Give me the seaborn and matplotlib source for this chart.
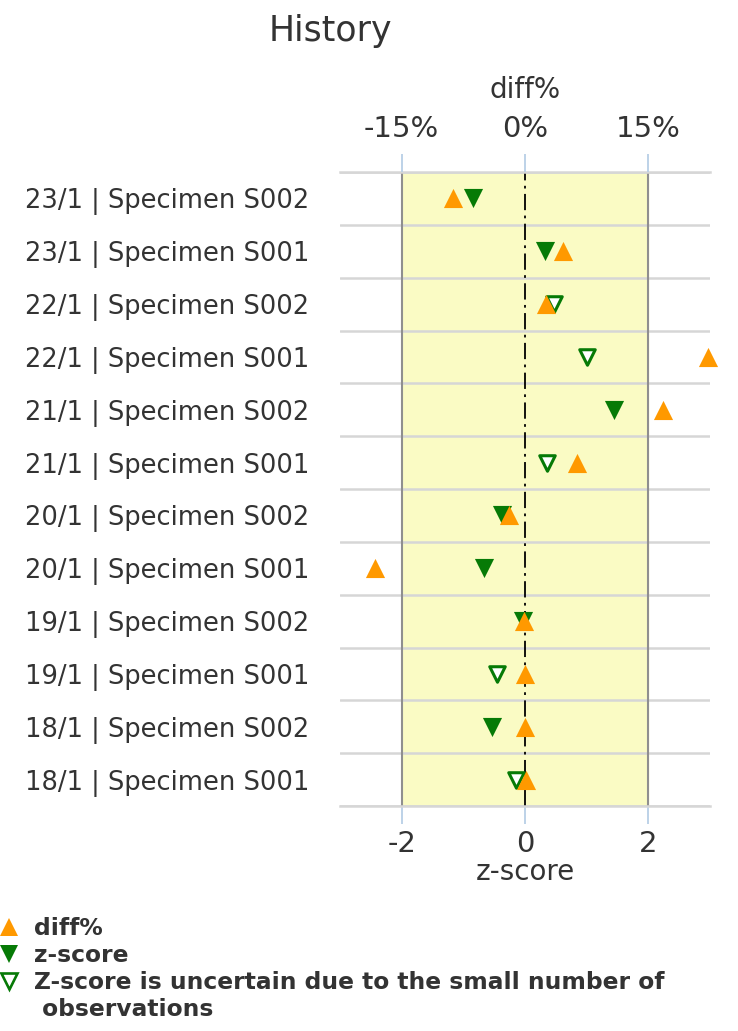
import numpy as np
import pandas as pd
import seaborn as sns
import matplotlib.pyplot as plt
from matplotlib.lines import Line2D

# data (top row first)
labels = ["23/1 | Specimen S002", "23/1 | Specimen S001",
          "22/1 | Specimen S002", "22/1 | Specimen S001",
          "21/1 | Specimen S002", "21/1 | Specimen S001",
          "20/1 | Specimen S002", "20/1 | Specimen S001",
          "19/1 | Specimen S002", "19/1 | Specimen S001",
          "18/1 | Specimen S002", "18/1 | Specimen S001"]
diff_pct = [-8.7, 4.6, 2.6, 22.2, 16.8, 6.3, -2.0, -18.2, -0.1, 0.0, 0.0, 0.1]
zscores = [-0.85, 0.32, 0.47, 1.0, 1.45, 0.36, -0.37, -0.67, -0.04, -0.46, -0.53, -0.14]
uncertain = [False, False, True, True, False, True, False, False, False, True, False, True]

df = pd.DataFrame({"label": labels, "diff_pct": diff_pct,
                   "zscore": zscores, "uncertain": uncertain})
df["row"] = np.arange(len(df))

orange = "#ff9900"
green = "#067a06"
text_col = "#333333"
tick_blue = "#b8cfe6"
grid_col = "#d6d6d6"

sns.set_style("white")
plt.rcParams["font.family"] = ["DejaVu Sans"]
plt.rcParams["axes.unicode_minus"] = False

fig = plt.figure(figsize=(7.38, 10.31), dpi=100)
ax = fig.add_axes([340 / 738, 1 - 806 / 1031, 370 / 738, 634 / 1031])

# acceptance band and reference lines
ax.axvspan(-2, 2, color="#fafbc4", zorder=0)
ax.axvline(-2, color="#8f8f8f", lw=1.5, zorder=1)
ax.axvline(2, color="#8f8f8f", lw=1.5, zorder=1)
ax.axvline(0, color="black", lw=1.3, ls=(0, (9, 3, 1.5, 3)), zorder=1)

# z-score markers
sns.scatterplot(data=df[~df["uncertain"]], x="zscore", y="row", marker="v",
                s=190, color=green, linewidth=0, ax=ax, zorder=3, legend=False)
sns.scatterplot(data=df[df["uncertain"]], x="zscore", y="row", marker="v",
                s=125, color="white", edgecolor=green, linewidth=2.2,
                ax=ax, zorder=4, legend=False)

# diff% on the top axis
ax2 = ax.twiny()
sns.scatterplot(data=df, x="diff_pct", y="row", marker="^", s=190,
                color=orange, linewidth=0, ax=ax2, zorder=3,
                clip_on=False, legend=False)

ax.set_xlim(-3, 3)
ax2.set_xlim(-22.5, 22.5)
ax.set_ylim(len(df) - 0.5, -0.5)

ax.set_yticks(df["row"], df["label"])
ax.set_yticks(np.arange(-0.5, len(df), 1), minor=True)
ax.grid(False)
ax.grid(which="minor", axis="y", color=grid_col, lw=1.8)
ax.set_axisbelow(True)
ax.tick_params(axis="y", which="both", length=0, pad=22, labelsize=18.5,
               labelcolor=text_col)
ax.set_ylabel("")

ax.set_xticks([-2, 0, 2])
ax.tick_params(axis="x", length=13, width=1.3, color=tick_blue, pad=4,
               labelsize=21, labelcolor=text_col)
ax.set_xlabel("z-score", fontsize=20, color=text_col, labelpad=0)

ax2.set_xticks([-15, 0, 15], ["-15%", "0%", "15%"])
ax2.tick_params(axis="x", length=13, width=1.3, color=tick_blue, pad=8,
                labelsize=21, labelcolor=text_col)
ax2.set_xlabel("diff%", fontsize=20, color=text_col, labelpad=12)
ax2.grid(False)

for sp in ax2.spines.values():
    sp.set_visible(False)
ax.spines["left"].set_visible(False)
ax.spines["right"].set_visible(False)
for side in ("top", "bottom"):
    ax.spines[side].set_color(grid_col)
    ax.spines[side].set_linewidth(1.8)

fig.text(330 / 738, 1 - 31 / 1031, "History", ha="center", va="center",
         fontsize=25, color=text_col)

handles = [
    Line2D([], [], ls="none", marker="^", color=orange, ms=13, mew=0),
    Line2D([], [], ls="none", marker="v", color=green, ms=13, mew=0),
    Line2D([], [], ls="none", marker="v", mfc="white", mec=green, ms=11, mew=1.9),
    Line2D([], [], ls="none"),
]
leg_labels = ["diff%", "z-score",
              "Z-score is uncertain due to the small number of",
              " observations"]
fig.legend(handles, leg_labels, loc="upper left",
           bbox_to_anchor=(0, 1 - 917 / 1031), frameon=False,
           prop={"weight": "bold", "size": 16.8}, labelcolor=text_col,
           handlelength=0.75, handletextpad=0.7, borderaxespad=0,
           borderpad=0, labelspacing=0.17)

fig.savefig("out.png", dpi=100)
